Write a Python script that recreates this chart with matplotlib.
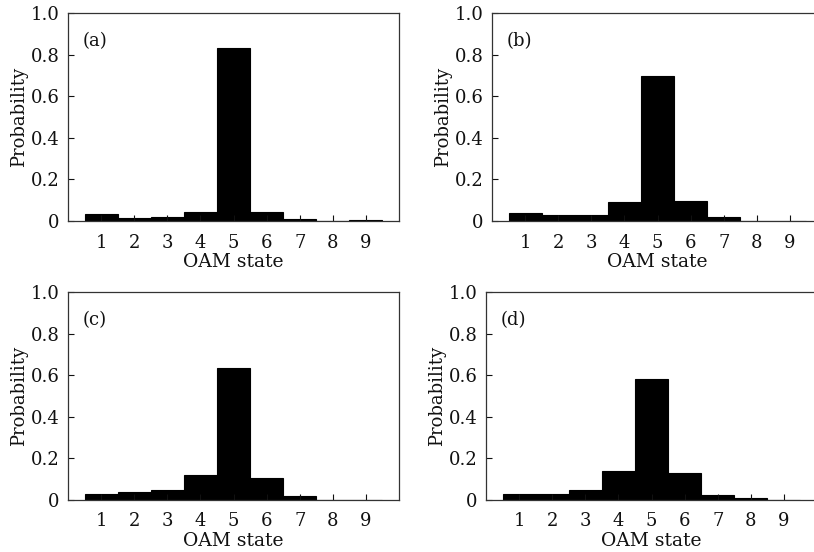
import numpy as np
import matplotlib
matplotlib.use('Agg')
import matplotlib.pyplot as plt

# Dados
estados = [1, 2, 3, 4, 5, 6, 7, 8, 9]
prob_a = [0.035, 0.016, 0.020, 0.045, 0.831, 0.045, 0.010, 0.002, 0.006]
prob_b = [0.037, 0.029, 0.029, 0.093, 0.698, 0.096, 0.021, 0.002, 0.002]
prob_c = [0.030, 0.038, 0.046, 0.118, 0.635, 0.106, 0.018, 0.000, 0.000]
prob_d = [0.029, 0.027, 0.050, 0.138, 0.581, 0.130, 0.022, 0.011, 0.000]
rotulos = ['(a)', '(b)', '(c)', '(d)']
yticks = [0, 0.2, 0.4, 0.6, 0.8, 1.0]
ytick_labels = ['0', '0.2', '0.4', '0.6', '0.8', '1.0']

plt.rcParams['font.family'] = 'DejaVu Serif'

fig = plt.figure(figsize=(8.14, 5.52), dpi=100)

W, H = 814.0, 552.0
# posições dos eixos em pixels (esquerda, topo, direita, base)
caixas = [(68, 13, 399, 221), (492, 13, 823, 221),
          (68, 292, 399, 500), (486, 292, 817, 500)]
dados = [prob_a, prob_b, prob_c, prob_d]

for caixa, prob, rot in zip(caixas, dados, rotulos):
    x0, y0, x1, y1 = caixa
    ax = fig.add_axes([x0 / W, 1 - y1 / H, (x1 - x0) / W, (y1 - y0) / H])
    ax.bar(estados, prob, width=1.0, color='black', edgecolor='black', linewidth=0.8)
    ax.set_xlim(0, 10)
    ax.set_ylim(0, 1.0)
    ax.set_xticks(estados)
    ax.set_yticks(yticks)
    ax.set_yticklabels(ytick_labels)
    ax.tick_params(direction='in', length=4, width=0.8, labelsize=13, colors='#111111')
    ax.tick_params(axis='x', pad=9)
    ax.tick_params(axis='y', pad=6)
    ax.set_xlabel('OAM state', fontsize=13.5, labelpad=1, color='#111111')
    ax.set_ylabel('Probability', fontsize=13, labelpad=2, color='#111111')
    ax.text(0.045, 0.91, rot, transform=ax.transAxes, fontsize=13, va='top', ha='left', color='#111111')
    for s in ax.spines.values():
        s.set_linewidth(0.9)
        s.set_color('#333333')

plt.savefig('out.png', dpi=100)
